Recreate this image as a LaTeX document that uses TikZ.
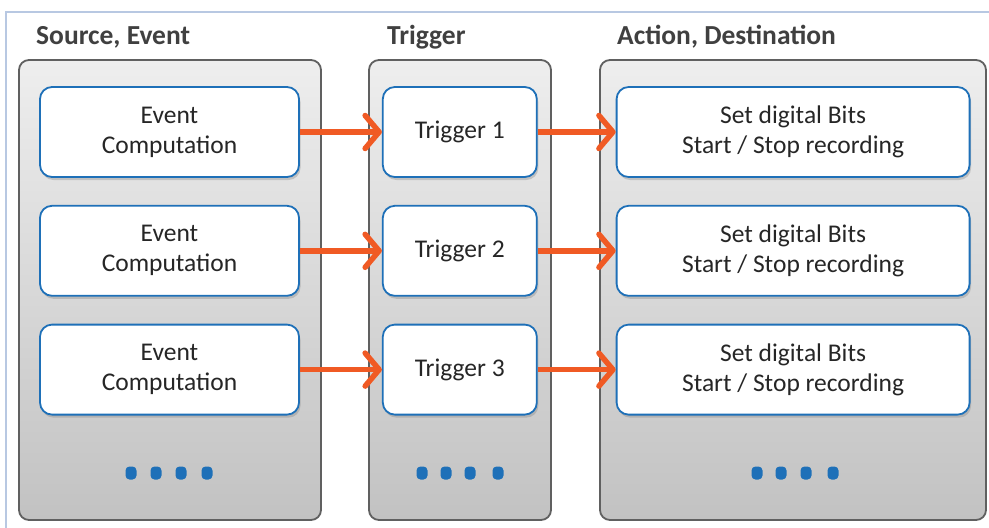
\documentclass[tikz,border=0pt]{standalone}
\usepackage{fontspec}
\setmainfont{Carlito}
\usetikzlibrary{arrows.meta,positioning,shadows}
\definecolor{boxblue}{RGB}{30,112,184}
\definecolor{arrorange}{RGB}{240,90,36}
\definecolor{paneltop}{RGB}{238,238,238}
\definecolor{panelbot}{RGB}{194,194,194}
\definecolor{panelline}{RGB}{96,96,96}
\definecolor{headgray}{RGB}{64,64,64}
\definecolor{framecol}{RGB}{184,200,226}

\begin{document}
\begin{tikzpicture}[
  x=1pt, y=-1pt,
  panel/.style={rectangle, draw=panelline, line width=1.8pt, rounded corners=10pt,
                top color=paneltop, bottom color=panelbot,
                minimum height=460pt, inner sep=0pt},
  head/.style={font=\bfseries\fontsize{27.5}{30}\selectfont, text=headgray,
               inner sep=0pt, anchor=base west},
  box/.style={rectangle, draw=boxblue, line width=1.8pt, rounded corners=12pt,
              fill=white, drop shadow={opacity=0.35, shadow xshift=1.5pt, shadow yshift=-3pt},
              align=center, font=\fontsize{25.5}{30}\selectfont, text=black!85,
              minimum height=90pt, inner sep=0pt},
  evbox/.style={box, minimum width=259pt},
  trbox/.style={box, minimum width=154pt},
  acbox/.style={box, minimum width=353pt},
  arr/.style={draw=arrorange, line width=5.5pt,
              -{Straight Barb[length=14pt,width=33pt,round]}},
  dot/.style={fill=boxblue, rounded corners=4pt},
  node distance=27pt
]
\useasboundingbox (0,0) rectangle (989,528);
\fill[white] (0,0) rectangle (989,528);
\draw[framecol, line width=2pt] (6,540) |- (1000,12);
\node[panel, minimum width=302pt] (srcpanel) at (170,290) {};
\node[panel, minimum width=182pt] (trgpanel) at (460,290) {};
\node[panel, minimum width=386pt] (actpanel) at (793,290) {};
\node[head] (srchead) at (36,44) {Source, Event};
\node[head] (trghead) at (387,44) {Trigger};
\node[head] (acthead) at (617,44) {Action, Destination};
\node[evbox] (ev1) at (169.5,132) {Event\\Computation};
\node[evbox, below=of ev1] (ev2) {Event\\Computation};
\node[evbox, below=of ev2] (ev3) {Event\\Computation};
\node[trbox, right=82pt of ev1] (tr1) {Trigger 1};
\node[trbox, below=of tr1] (tr2) {Trigger 2};
\node[trbox, below=of tr2] (tr3) {Trigger 3};
\node[acbox, right=78pt of tr1] (ac1) {Set digital Bits\\Start / Stop recording};
\node[acbox, below=of ac1] (ac2) {Set digital Bits\\Start / Stop recording};
\node[acbox, below=of ac2] (ac3) {Set digital Bits\\Start / Stop recording};
\draw[arr] (ev1) -- (tr1);
\draw[arr] (ev2) -- (tr2);
\draw[arr] (ev3) -- (tr3);
\draw[arr] (tr1) -- (ac1);
\draw[arr] (tr2) -- (ac2);
\draw[arr] (tr3) -- (ac3);
\foreach \dx in {131,156,181,207,422,446,470,498,757,781,806,833}
  \fill[dot] (\dx-5.5,466.5) rectangle ++(11,13);
\end{tikzpicture}
\end{document}
